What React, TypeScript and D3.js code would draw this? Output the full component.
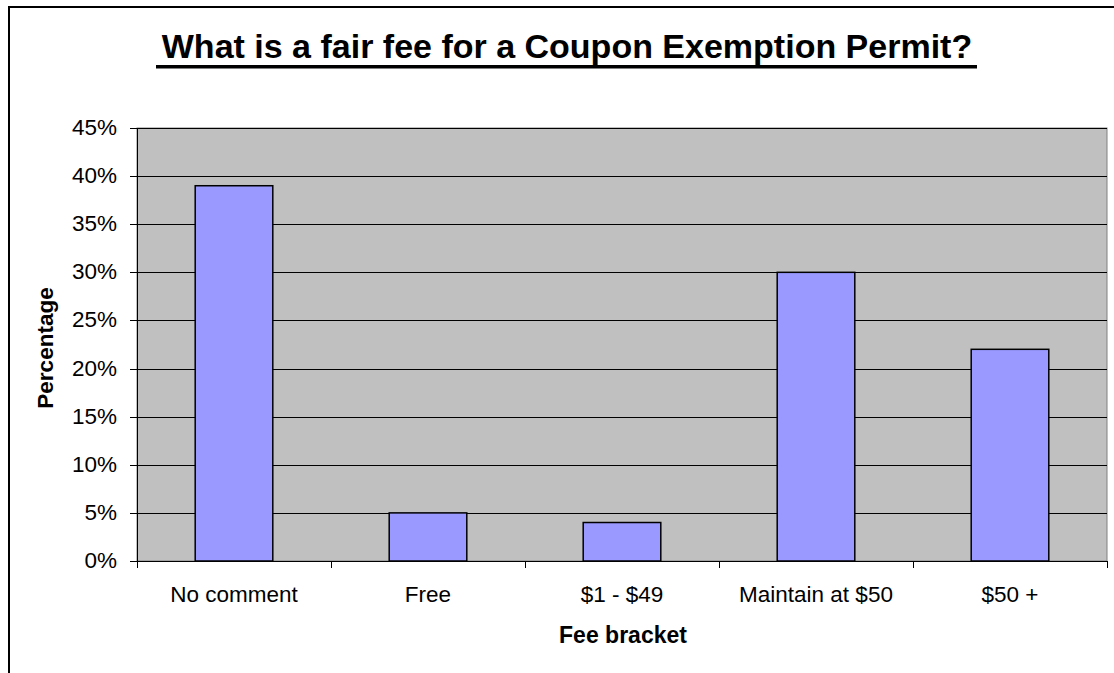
import React from "react";
import * as d3 from "d3";

const categories = ["No comment", "Free", "$1 - $49", "Maintain at $50", "$50 +"];
const percentages = [39, 5, 4, 30, 22];
const yTicks = [0, 5, 10, 15, 20, 25, 30, 35, 40, 45];

const W = 1114;
const H = 673;
const plot = { left: 137, right: 1107, top: 128, bottom: 561 };
const FONT = "'Liberation Sans', Arial, Helvetica, sans-serif";

export default function App() {
  const x = d3
    .scaleBand<string>()
    .domain(categories)
    .range([plot.left, plot.right])
    .paddingInner(0)
    .paddingOuter(0);
  const bw = x.bandwidth();
  const barW = bw / 2.5;
  const y = d3.scaleLinear().domain([0, 45]).range([plot.bottom, plot.top]);
  const px = (v: number) => Math.round(v) + 0.5;

  const boundaries = categories.map((c) => x(c) as number).concat([plot.right]);

  return (
    <svg
      width={W}
      height={H}
      style={{ position: "absolute", left: 0, top: 0, background: "#fff" }}
      fontFamily={FONT}
    >
      <rect x={0} y={0} width={W} height={H} fill="#fff" />
      {/* outer frame */}
      <rect x={9} y={7} width={1300} height={1000} fill="none" stroke="#000" strokeWidth={2} />

      {/* title */}
      <text
        x={567}
        y={58}
        textAnchor="middle"
        fontSize={34}
        fontWeight="bold"
        fill="#000"
      >
        What is a fair fee for a Coupon Exemption Permit?
      </text>
      <rect x={156} y={65} width={821} height={3.5} fill="#000" />

      {/* plot area */}
      <rect
        x={plot.left}
        y={plot.top}
        width={plot.right - plot.left}
        height={plot.bottom - plot.top}
        fill="#C0C0C0"
        stroke="#808080"
        strokeWidth={1}
      />

      {/* gridlines */}
      {yTicks.slice(1).map((t) => (
        <line
          key={"g" + t}
          x1={plot.left}
          x2={plot.right}
          y1={px(y(t))}
          y2={px(y(t))}
          stroke="#000"
          strokeWidth={1}
        />
      ))}

      {/* bars */}
      {categories.map((c, i) => (
        <rect
          key={c}
          x={(x(c) as number) + (bw - barW) / 2}
          y={y(percentages[i])}
          width={barW}
          height={plot.bottom - y(percentages[i])}
          fill="#9999FF"
          stroke="#000"
          strokeWidth={1.5}
        />
      ))}

      {/* y axis */}
      <line x1={px(plot.left)} x2={px(plot.left)} y1={plot.top} y2={plot.bottom} stroke="#000" />
      {yTicks.map((t) => (
        <g key={"t" + t}>
          <line x1={130} x2={plot.left} y1={px(y(t))} y2={px(y(t))} stroke="#000" />
          <text x={117} y={y(t) + 7} textAnchor="end" fontSize={22.5} fill="#000">
            {t}%
          </text>
        </g>
      ))}

      {/* x axis */}
      <line x1={plot.left} x2={plot.right} y1={px(plot.bottom)} y2={px(plot.bottom)} stroke="#000" />
      {boundaries.map((b, i) => (
        <line
          key={"xt" + i}
          x1={px(b)}
          x2={px(b)}
          y1={plot.bottom}
          y2={plot.bottom + 7}
          stroke="#000"
        />
      ))}
      {categories.map((c) => (
        <text
          key={"l" + c}
          x={(x(c) as number) + bw / 2}
          y={602}
          textAnchor="middle"
          fontSize={22.5}
          fill="#000"
        >
          {c}
        </text>
      ))}

      {/* axis titles */}
      <text x={623} y={643} textAnchor="middle" fontSize={23} fontWeight="bold" fill="#000">
        Fee bracket
      </text>
      <text
        transform={`translate(53,348) rotate(-90)`}
        textAnchor="middle"
        fontSize={22.5}
        fontWeight="bold"
        fill="#000"
      >
        Percentage
      </text>
    </svg>
  );
}
